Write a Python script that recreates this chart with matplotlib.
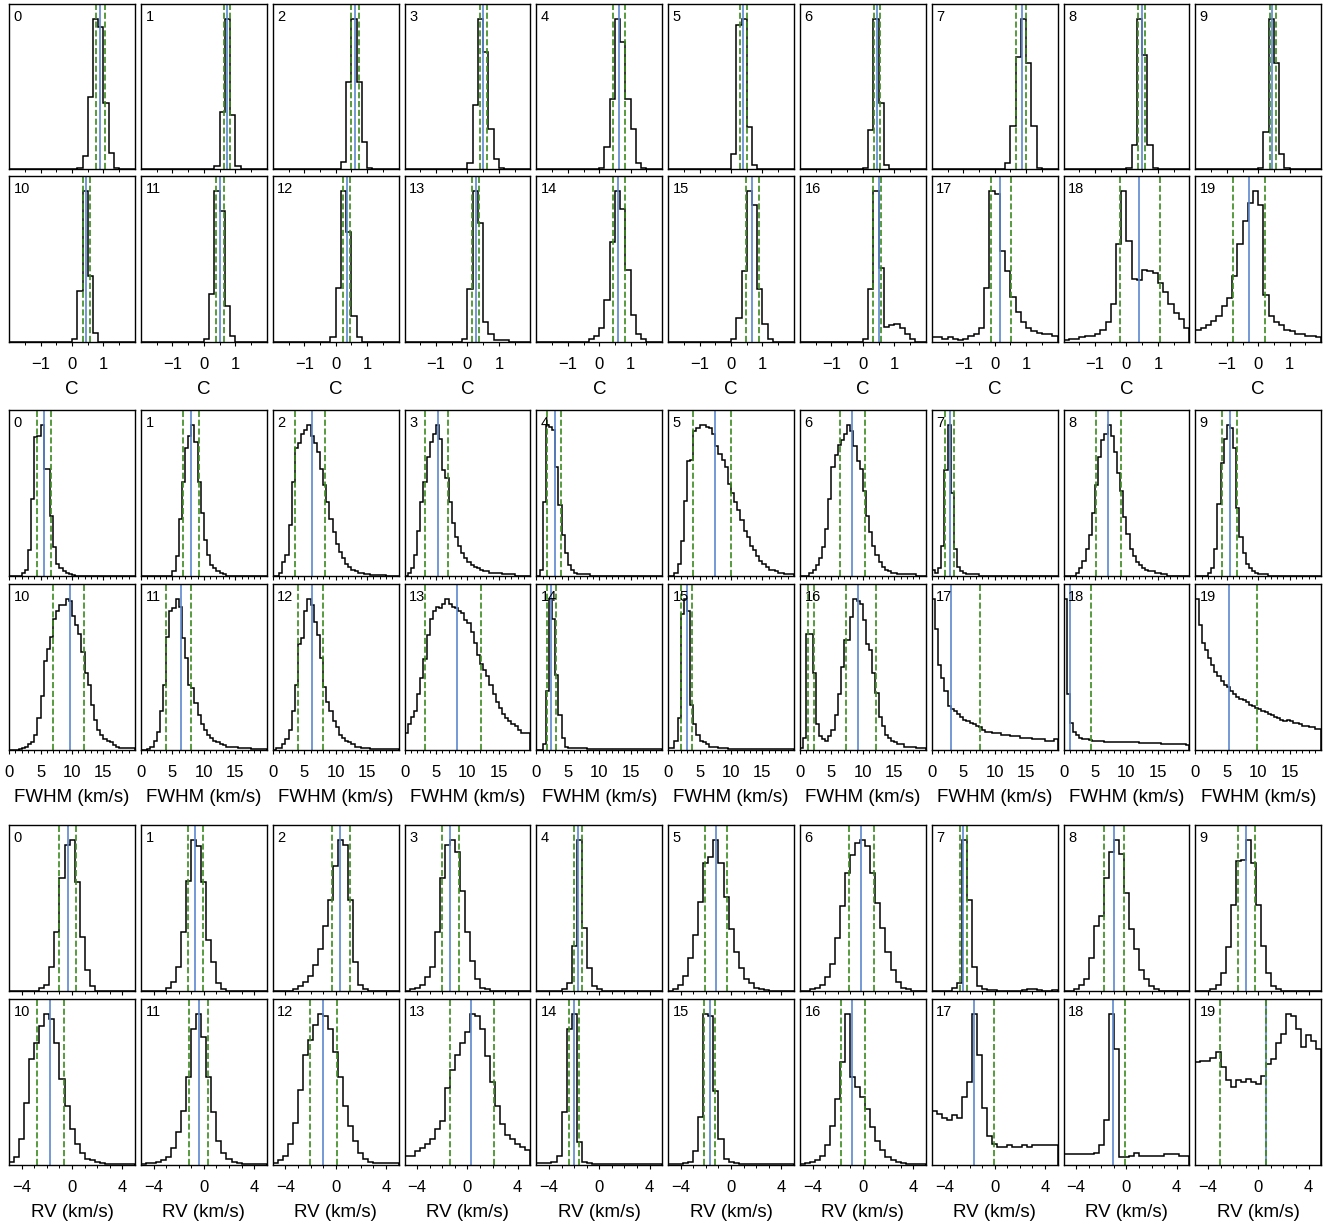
import numpy as np
import matplotlib
matplotlib.use("Agg")
import matplotlib.pyplot as plt
from matplotlib.ticker import FixedLocator

plt.rcParams['font.family'] = ['Liberation Sans', 'DejaVu Sans']

# ---------------- C parameter ----------------
C_edges = np.linspace(-2, 2, 25)
C_start = [13, 14, 13, 12, 12, 12, 12, 14, 12, 12, 12, 12, 11, 11, 10, 12, 12, 0, 0, 0]
C_hist = [
    [1, 9, 48, 100, 95, 44, 11, 1],
    [2, 38, 100, 36, 2],
    [5, 58, 100, 58, 18, 1],
    [4, 43, 100, 78, 27, 7, 1],
    [1, 15, 47, 100, 85, 47, 27, 4, 1],
    [10, 96, 100, 28, 3],
    [1, 26, 100, 44, 3],
    [4, 29, 75, 100, 71, 29, 1],
    [1, 16, 100, 76, 16, 1],
    [1, 25, 100, 71, 10, 1],
    [2, 34, 100, 44, 6],
    [2, 32, 100, 87, 24, 4],
    [3, 36, 100, 73, 17, 3],
    [2, 35, 100, 79, 13, 5, 1, 1, 1],
    [2, 4, 9, 28, 66, 100, 88, 48, 18, 5, 2],
    [2, 16, 47, 100, 91, 35, 12, 2],
    [2, 35, 100, 49, 10, 11, 12, 9, 5, 2],
    [3, 3, 2, 3, 2, 1.5, 2, 4, 5, 9, 36, 100, 98, 60, 47, 30, 20, 13, 9, 7, 6, 5, 5, 4],
    [1, 2, 2, 3, 4, 4, 5, 8, 13, 25, 65, 100, 67, 42, 41, 48, 47, 46, 39, 33, 25, 19, 15, 9],
    [8, 9, 11, 14, 17, 24, 29, 44, 65, 80, 92, 100, 91, 31, 17, 13, 11, 8, 7, 5, 5, 4, 4, 3],
]
C_med = [0.90, 0.75, 0.60, 0.51, 0.63, 0.39, 0.45, 0.86, 0.49, 0.45,
         0.45, 0.51, 0.36, 0.26, 0.60, 0.68, 0.51, 0.17, 0.40, -0.31]
C_lo = [0.75, 0.64, 0.49, 0.39, 0.44, 0.29, 0.36, 0.68, 0.37, 0.36,
        0.36, 0.40, 0.24, 0.16, 0.44, 0.49, 0.33, -0.12, -0.21, -0.79]
C_hi = [1.05, 0.82, 0.73, 0.62, 0.81, 0.50, 0.55, 1.01, 0.59, 0.55,
        0.56, 0.63, 0.47, 0.37, 0.82, 0.89, 0.59, 0.52, 1.08, 0.22]

# ---------------- FWHM ----------------
F_edges = np.linspace(0, 20, 41)
F_start = [4, 10, 2, 1, 1, 2, 3, 0, 4, 4, 3, 2, 1, 0, 2, 0, 0, 0, 0, 0]
F_hist = [
    [2, 4, 17, 51, 92, 93, 100, 71, 71, 40, 19, 8, 5, 3, 2, 1, 0.5],
    [3, 13, 38, 62, 85, 93, 100, 89, 62, 42, 24, 14, 7, 5, 3, 2, 1],
    [2, 9, 14, 34, 62, 85, 88, 94, 97, 100, 93, 88, 82, 71, 60, 49, 38, 29, 21, 16,
     12, 8, 6, 4, 3, 2, 2, 1, 1, 0.5, 0.5, 0.5, 0.5, 0.5],
    [2, 5, 14, 30, 49, 62, 79, 89, 94, 100, 91, 70, 65, 49, 35, 26, 20, 15, 12, 9,
     7, 6, 5, 4, 3, 3, 2, 2, 2, 2, 1, 1, 1, 1],
    [4, 49, 100, 99, 97, 72, 47, 27, 15, 7, 4, 2, 1, 1, 1, 1],
    [2, 8, 23, 50, 76, 77, 96, 98, 100, 100, 99, 98, 94, 86, 81, 77, 72, 61, 55, 49,
     44, 37, 30, 26, 20, 17, 13, 10, 8, 6, 4, 4, 3, 2, 2, 1, 1, 1],
    [2, 4, 7, 12, 19, 31, 51, 72, 80, 87, 90, 94, 100, 96, 86, 76, 71, 56, 40, 29,
     20, 14, 9, 6, 4, 3, 2, 2, 1, 1, 1, 1, 1, 1],
    [4, 2, 5, 20, 70, 100, 55, 18, 6, 3, 2, 1, 1, 1, 1],
    [2, 5, 10, 18, 27, 42, 60, 79, 90, 94, 100, 93, 82, 68, 56, 39, 28, 18, 13, 9,
     7, 5, 4, 3, 3, 2, 2, 1, 1],
    [2, 5, 18, 48, 75, 91, 100, 98, 85, 45, 26, 15, 8, 5, 3, 2, 1, 1, 1],
    [0.5, 1, 2, 4, 5, 10, 21, 36, 59, 67, 75, 87, 92, 96, 96, 100, 99, 89, 83, 77,
     65, 51, 43, 30, 20, 13, 10, 7, 6, 5, 3, 2, 1, 1, 1, 1, 1],
    [0.5, 2, 6, 12, 26, 43, 75, 92, 94, 100, 95, 74, 61, 43, 41, 31, 23, 17, 13, 10,
     8, 6, 5, 4, 3, 2, 2, 2, 2, 1, 1, 1, 1, 0.7, 0.7, 0.7, 0.7, 0.7],
    [1, 1, 4, 7, 13, 26, 43, 70, 74, 92, 100, 96, 85, 76, 61, 42, 32, 26, 19, 15,
     10, 8, 6, 5, 4, 2, 2, 1, 1, 1, 0.7, 0.7, 0.7, 0.7, 0.7, 0.7, 0.7, 0.7, 0.7],
    [11, 17, 22, 26, 37, 48, 60, 76, 87, 92, 95, 94, 97, 100, 97, 95, 94, 92, 91, 86,
     84, 78, 71, 63, 57, 53, 49, 43, 37, 32, 28, 24, 21, 19, 17, 16, 13, 11, 11, 11],
    [4, 39, 100, 87, 50, 23, 8, 2, 1, 1, 1, 1, 1, 1, 0.5, 0.5, 0.5, 0.5, 0.5, 0.5,
     0.5, 0.5, 0.5, 0.5, 0.5, 0.5, 0.5, 0.5, 0.5, 0.5, 0.5, 0.5, 0.5, 0.5, 0.5, 0.5, 0.5, 0.5],
    [1, 1, 6, 21, 90, 100, 92, 30, 17, 10, 6, 5, 4, 2, 2, 2, 1, 1, 1, 0.5,
     0.5, 0.5, 0.5, 0.5, 0.5, 0.5, 0.5, 0.5, 0.5, 0.5, 0.5, 0.5, 0.5, 0.5, 0.5, 0.5, 0.5, 0.5, 0.5, 0.5],
    [1, 8, 77, 77, 51, 17, 9, 7, 6, 9, 13, 23, 37, 55, 73, 73, 88, 100, 99, 97,
     86, 70, 66, 51, 38, 22, 16, 10, 8, 6, 5, 4, 4, 2, 2, 2, 2, 1, 1, 1],
    [100, 80, 56, 48, 39, 29, 27, 26, 24, 22, 20, 19, 18, 17, 16, 15, 13, 12, 12, 11,
     11, 11, 10, 10, 10, 9, 9, 9, 8, 8, 8, 8, 7, 7, 7, 7, 6, 6, 6, 7],
    [100, 37, 18, 12, 10, 8, 7, 7, 6.5, 6, 6, 6, 6, 5.5, 5.5, 5.5, 5.5, 5, 5, 5,
     5, 5, 5, 5, 4.5, 4.5, 4.5, 4.5, 4.5, 4.5, 4.5, 4, 4, 4, 4, 4, 4, 4, 4, 3.5],
    [100, 83, 71, 66, 61, 56, 52, 49, 46, 43, 42, 39, 37, 35, 34, 33, 32, 30, 29, 28,
     27, 26, 25, 24, 23, 22, 21, 20, 19, 20, 19, 18, 18, 17, 16, 16, 15, 15, 14, 14],
]
F_med = [5.56, 8.0, 6.3, 5.36, 2.98, 7.46, 8.34, 2.92, 7.12, 5.56,
         9.7, 6.3, 6.17, 8.27, 2.37, 3.05, 9.29, 3.12, 1.0, 5.29]
F_lo = [4.4, 6.64, 3.53, 3.32, 1.76, 3.93, 6.3, 2.17, 5.08, 4.2,
        7.0, 4.0, 3.93, 3.32, 1.63, 2.03, 7.39, None, None, None]
F_hi = [6.58, 9.15, 8.27, 6.92, 3.93, 9.97, 10.3, 3.46, 9.08, 6.58,
        11.86, 8.0, 7.93, 12.14, 3.05, 3.73, 12.14, 7.73, 4.34, 9.76]
F_extra = {16: [1.29, 2.24]}

# ---------------- RV ----------------
R_edges = np.linspace(-5, 5, 26)
R_start = [6, 5, 4, 1, 5, 1, 2, 4, 2, 3, 0, 0, 0, 0, 0, 0, 0, 0, 0, 0]
R_hist = [
    [2, 4, 16, 39, 75, 97, 100, 72, 36, 14, 3],
    [2, 6, 16, 39, 73, 100, 96, 72, 34, 19, 5, 1],
    [1, 3, 6, 10, 17, 28, 43, 60, 83, 100, 97, 60, 19, 4, 1],
    [1, 2, 4, 9, 16, 39, 75, 97, 100, 92, 66, 39, 20, 8, 2, 1],
    [1, 5, 30, 100, 42, 15, 3, 1],
    [1, 4, 10, 22, 37, 59, 85, 89, 100, 85, 62, 41, 26, 15, 8, 5, 2, 1, 0.5],
    [1, 2, 4, 9, 18, 35, 56, 78, 90, 98, 100, 96, 78, 58, 42, 26, 14, 6, 2, 1],
    [2, 5, 100, 60, 16, 3, 1, 0.5, 0.5, 0.3, 0.3, 0.3, 0.3, 0.3, 0.6, 1, 1, 0.6, 0.3, 0.3, 0.5],
    [1, 4, 8, 22, 43, 50, 75, 92, 100, 91, 65, 41, 28, 14, 8, 3, 1],
    [1, 4, 12, 29, 57, 86, 87, 100, 85, 57, 30, 12, 3, 1],
    [2, 5, 17, 41, 70, 81, 92, 100, 97, 81, 57, 39, 24, 14, 8, 4, 3, 2, 1, 0.5,
     0.5, 0.5, 0.5, 0.5, 0.5],
    [0.5, 1, 1, 2, 3, 5, 11, 22, 36, 58, 90, 100, 85, 58, 35, 16, 8, 4, 2, 1,
     0.5, 0.5, 0.5, 0.5, 0.5],
    [1, 3, 6, 14, 28, 50, 73, 83, 93, 100, 99, 90, 75, 58, 39, 26, 16, 8, 4, 2,
     1, 1, 1, 1, 1],
    [6, 6, 9, 11, 14, 17, 24, 29, 51, 63, 73, 81, 88, 100, 99, 90, 72, 55, 39, 27,
     20, 17, 14, 12, 10],
    [1, 1, 1.5, 2, 6, 35, 90, 100, 15, 2, 1, 0.5, 0.5, 0.5, 0.5, 0.5, 0.5, 0.5, 0.5, 0.8,
     0.8, 0.5, 0.5, 0.5, 0.5],
    [0.5, 0.5, 0.5, 1, 2, 9, 32, 100, 99, 49, 17, 4, 2, 1, 0.5, 0.5, 0.5, 0.5, 0.5, 0.5,
     0.5, 0.5, 0.5, 0.5, 0.5],
    [0.5, 1, 2, 3, 6, 13, 26, 44, 68, 100, 58, 52, 45, 37, 25, 16, 10, 5, 3, 2,
     1, 0.5, 0.5, 0.5, 0.5],
    [36, 34, 31, 30, 33, 31, 45, 55, 100, 73, 38, 19, 14, 12, 12, 13, 12, 12, 13, 12,
     13, 13, 13, 13, 13],
    [7, 7, 7, 7, 7, 7, 8, 13, 30, 100, 77, 5, 5, 6, 8, 6, 6, 6, 6, 6,
     7, 7, 7, 6, 6],
    [68, 69, 69, 71, 75, 65, 56, 52, 56, 55, 57, 55, 54, 59, 67, 70, 81, 87, 100, 99,
     90, 78, 86, 82, 77],
]
R_med = [-0.32, -0.69, 0.32, -1.37, -1.71, -1.17, -0.12, -2.49, -0.97, -0.97,
         -1.75, -0.42, -1.0, 0.25, -1.98, -1.68, -0.83, -1.64, -1.10, 0.60]
R_lo = [-1.0, -1.27, -0.32, -2.05, -1.98, -2.05, -1.07, -2.73, -1.81, -1.61,
        -2.76, -1.2, -2.05, -1.37, -2.39, -2.12, -1.75, None, None, -3.07]
R_hi = [0.29, -0.08, 1.17, -0.69, -1.37, -0.32, 0.86, -2.19, -0.19, -0.25,
        -0.66, 0.36, 0.08, 2.12, -1.61, -1.27, 0.19, -0.05, -0.08, 0.63]

BLUE = '#5b87cf'
GREEN = '#3a8a1e'

W, H = 1336, 1225
fig = plt.figure(figsize=(W / 100, H / 100), dpi=100)


def draw_group(edges, starts, hists, med, lo, hi, xlim, major, minor, xlabel, rows, extra=None):
    extra = extra or {}
    centers = 0.5 * (edges[1:] + edges[:-1])
    for i in range(20):
        r, c = divmod(i, 10)
        top, bot = rows[r]
        left = 9.2 + 131.8 * c
        ax = fig.add_axes([left / W, 1 - bot / H, 125.7 / W, (bot - top) / H])
        vals = np.zeros(len(edges) - 1)
        h = hists[i][:len(vals) - starts[i]]
        vals[starts[i]:starts[i] + len(h)] = h
        ax.hist(centers, bins=edges, weights=vals, histtype='step', color='k', lw=1.1)
        ax.axvline(med[i], color=BLUE, lw=1.2)
        for v in [lo[i], hi[i]] + extra.get(i, []):
            if v is not None:
                ax.axvline(v, color=GREEN, lw=1.2, ls='--')
        ax.set_xlim(xlim)
        ax.set_ylim(0, 1.1 * vals.max())
        ax.set_yticks([])
        ax.set_xticks(major)
        ax.xaxis.set_minor_locator(FixedLocator(minor))
        ax.tick_params(axis='x', which='major', direction='out', length=3, width=0.8,
                       labelsize=12, pad=8)
        ax.tick_params(axis='x', which='minor', direction='out', length=1.8, width=0.7)
        if r == 0:
            ax.set_xticklabels([])
        else:
            ax.set_xlabel(xlabel, fontsize=13.5, labelpad=6)
        ax.text(0.035, 0.965, str(i), transform=ax.transAxes, ha='left', va='top', fontsize=10.5)
        for s in ax.spines.values():
            s.set_linewidth(1.0)


draw_group(C_edges, C_start, C_hist, C_med, C_lo, C_hi, (-2, 2), [-1, 0, 1],
           [-1.5, -0.5, 0.5, 1.5], 'C', [(4, 169), (176, 342)])
draw_group(F_edges, F_start, F_hist, F_med, F_lo, F_hi, (0, 20), [0, 5, 10, 15],
           [v for v in range(1, 20) if v % 5], 'FWHM (km/s)', [(410, 576), (584, 750)],
           extra=F_extra)
draw_group(R_edges, R_start, R_hist, R_med, R_lo, R_hi, (-5, 5), [-4, 0, 4],
           [-3, -2, -1, 1, 2, 3], 'RV (km/s)', [(825, 991), (999, 1165)])

fig.savefig('out.png', dpi=100)
